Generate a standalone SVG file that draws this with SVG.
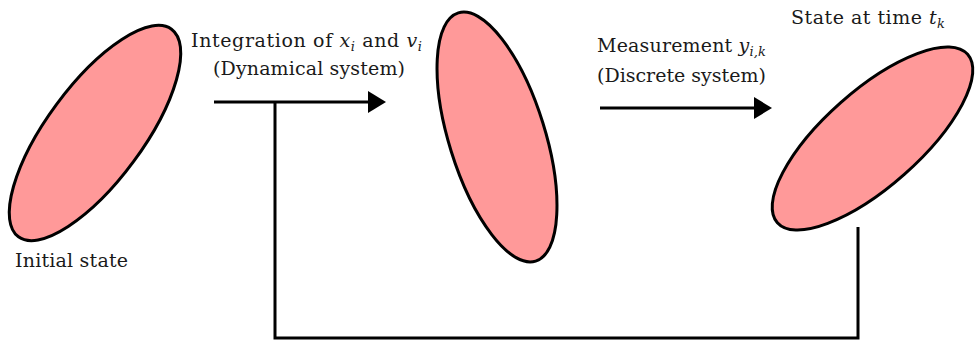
<svg xmlns="http://www.w3.org/2000/svg" width="976" height="341" viewBox="0 0 976 341">
<style>
.st{fill:#ff9999;stroke:#000;stroke-width:3}
.c{fill:none;stroke:#000;stroke-width:3}
text{font-family:"DejaVu Serif","Liberation Serif",serif;font-size:19px;fill:#1a1a1a}
.m{font-style:italic}
.s{font-size:13px;font-style:italic}
</style>
<defs>
<marker id="ah" markerUnits="userSpaceOnUse" viewBox="0 0 18 22" refX="0" refY="11" markerWidth="18" markerHeight="22" orient="auto">
<path d="M0,0 L18,11 L0,22 z" fill="#000"/>
</marker>
</defs>
<g id="connectors">
<line class="c" x1="214" y1="102" x2="368" y2="102" marker-end="url(#ah)"/>
<line class="c" x1="600" y1="108" x2="754" y2="108" marker-end="url(#ah)"/>
<polyline class="c" points="858,227 858,338 275,338 275,102"/>
</g>
<g id="initial">
<ellipse class="st" cx="95" cy="133" rx="129" ry="48" transform="rotate(-53.6 95 133)"/>
<text x="15" y="267" textLength="113" lengthAdjust="spacing">Initial state</text>
</g>
<g id="intermediate">
<ellipse class="st" cx="497" cy="137" rx="130" ry="48" transform="rotate(72.7 497 137)"/>
</g>
<g id="final">
<ellipse class="st" cx="872.5" cy="138.5" rx="127" ry="48" transform="rotate(-41.5 872.5 138.5)"/>
<text x="791" y="24" textLength="154" lengthAdjust="spacing">State at time <tspan class="m">t</tspan><tspan class="s" dy="4">k</tspan></text>
</g>
<g id="label-integration">
<text x="191" y="47" textLength="231" lengthAdjust="spacing">Integration of <tspan class="m">x</tspan><tspan class="s" dy="4">i</tspan><tspan dy="-4"> and </tspan><tspan class="m">v</tspan><tspan class="s" dy="4">i</tspan></text>
<text x="213" y="75" textLength="192" lengthAdjust="spacing">(Dynamical system)</text>
</g>
<g id="label-measurement">
<text x="597" y="52" textLength="169" lengthAdjust="spacing">Measurement <tspan class="m">y</tspan><tspan class="s" dy="4">i,k</tspan></text>
<text x="597" y="82">(Discrete system)</text>
</g>
</svg>
